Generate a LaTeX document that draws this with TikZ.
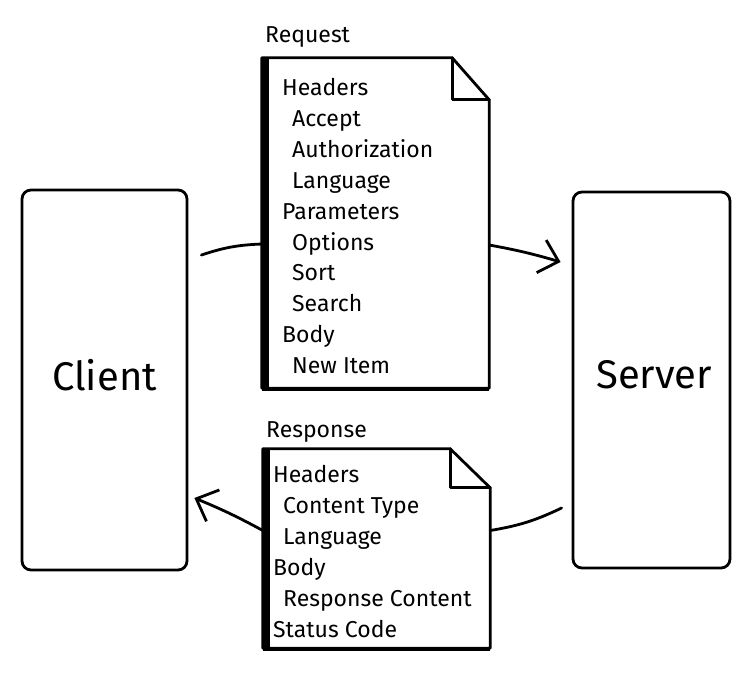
\documentclass[tikz,border=0pt]{standalone}
\usepackage{fontspec}
\setmainfont{Fira Sans}
\usetikzlibrary{arrows.meta,calc}
\begin{document}
\begin{tikzpicture}[x=1pt,y=-1pt,
  line join=round, line cap=round,
  sk/.style={line width=2.8pt, black},
  bigtxt/.style={font=\fontsize{40}{40}\selectfont, inner sep=0pt, anchor=base west},
  doctxt/.style={font=\fontsize{23}{23}\selectfont, inner sep=0pt, anchor=base west},
  boxnode/.style={sk, draw, rounded corners=9pt, minimum width=165pt, minimum height=380pt, inner sep=0pt},
  docnode/.style={inner sep=0pt, draw=none},
  conn/.style={sk},
  tip/.style={sk, -{Straight Barb[length=18pt,width=34pt,line width=2.8pt]}}]
\useasboundingbox (0,0) rectangle (749,672);
\fill[white] (0,0) rectangle (749,672);

% boxes
\node[boxnode] (client) at (104.5,380) {};
\node[boxnode, minimum width=157pt, minimum height=376pt] (server) at (651.5,380) {};
\node[bigtxt] (clienttxt) at (52,390) {Client};
\node[bigtxt] (servertxt) at (596,388) {Server};

% request document
\node[docnode, minimum width=227pt, minimum height=330pt] (req) at (375.5,223) {};
\draw[sk] (req.north west) -- ([shift={(-37,0)}]req.north east) -- ([shift={(0,42)}]req.north east) -- (req.south east) -- (req.south west) -- cycle;
\draw[sk] ([shift={(-37,0)}]req.north east) -- ([shift={(-37,42)}]req.north east) -- ([shift={(0,42)}]req.north east);
\draw[line width=7pt, line cap=butt] ([shift={(3.5,0)}]req.north west) -- ([shift={(3.5,2.5)}]req.south west);
\draw[line width=4.5pt, line cap=butt] ([shift={(0,0.8)}]req.south west) -- ([shift={(0,0.8)}]req.south east);
\node[doctxt] (reqlabel) at (265,42) {Request};
\node[doctxt] (rq1) at (282,95) {Headers};
\node[doctxt] (rq2) at (292,126) {Accept};
\node[doctxt] (rq3) at (292,157) {Authorization};
\node[doctxt] (rq4) at (292,188) {Language};
\node[doctxt] (rq5) at (282,219) {Parameters};
\node[doctxt] (rq6) at (292,250) {Options};
\node[doctxt] (rq7) at (292,280) {Sort};
\node[doctxt] (rq8) at (292,311) {Search};
\node[doctxt] (rq9) at (282,342) {Body};
\node[doctxt] (rq10) at (292,373) {New Item};

% response document
\node[docnode, minimum width=227pt, minimum height=199pt] (resp) at (376.5,548.5) {};
\draw[sk] (resp.north west) -- ([shift={(-40,0)}]resp.north east) -- ([shift={(0,39)}]resp.north east) -- (resp.south east) -- (resp.south west) -- cycle;
\draw[sk] ([shift={(-40,0)}]resp.north east) -- ([shift={(-40,39)}]resp.north east) -- ([shift={(0,39)}]resp.north east);
\draw[line width=7pt, line cap=butt] ([shift={(3.5,0)}]resp.north west) -- ([shift={(3.5,2.5)}]resp.south west);
\draw[line width=4.5pt, line cap=butt] ([shift={(0,0.8)}]resp.south west) -- ([shift={(0,0.8)}]resp.south east);
\node[doctxt] (resplabel) at (266,437) {Response};
\node[doctxt] (rs1) at (273,482) {Headers};
\node[doctxt] (rs2) at (283,513) {Content Type};
\node[doctxt] (rs3) at (283,544) {Language};
\node[doctxt] (rs4) at (273,575) {Body};
\node[doctxt] (rs5) at (283,606) {Response Content};
\node[doctxt] (rs6) at (273,637) {Status Code};

% connectors
\draw[conn] ([shift={(13,-125)}]client.east) to[bend left=8] ([shift={(0,21)}]req.west);
\draw[tip] ([shift={(0,22)}]req.east) to[bend left=3] ([shift={(-11,-118)}]server.west);
\draw[conn] ([shift={(-10,128)}]server.west) to[bend left=8] ([shift={(0,-18)}]resp.east);
\draw[tip] ([shift={(0,-18)}]resp.west) to[bend right=3] ([shift={(6,118)}]client.east);
\end{tikzpicture}
\end{document}
